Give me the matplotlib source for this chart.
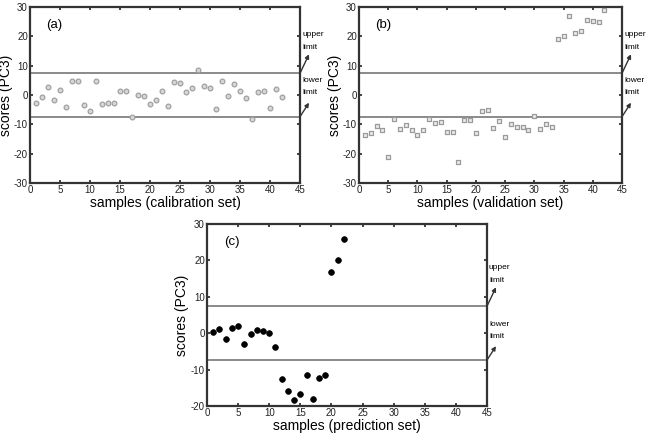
import numpy as np
import matplotlib
matplotlib.use('Agg')
import matplotlib.pyplot as plt

plt.rcParams['font.family'] = ['Liberation Sans', 'DejaVu Sans']
plt.rcParams['axes.unicode_minus'] = False

# PC3 scores
cal_scores = [-2.8, -0.8, 2.6, -1.6, 1.7, -4.0, 4.7, 4.9, -3.3, -5.5,
              4.7, -3.2, -2.8, -2.8, 1.5, 1.3, -7.6, -0.1, -0.3, -3.2,
              -1.7, 1.5, -3.9, 4.5, 4.1, 1.0, 2.5, 8.6, 3.2, 2.5,
              -4.7, 4.7, -0.3, 3.6, 1.4, -1.0, -8.2, 0.9, 1.3, -4.5,
              1.9, -0.8]
val_scores = [-13.7, -12.8, -10.6, -12.1, -21.1, -8.3, -11.7, -10.3, -12.1, -13.7,
              -12.1, -8.3, -9.5, -9.1, -12.7, -12.7, -22.8, -8.4, -8.4, -12.8,
              -5.6, -5.0, -11.2, -8.9, -14.3, -9.9, -10.8, -10.8, -12.0, -7.2,
              -11.6, -9.9, -10.9, 19.0, 20.0, 26.8, 21.1, 21.7, 25.7, 25.2,
              24.9, 28.8]
pred_scores = [0.4, 1.2, -1.7, 1.5, 1.9, -2.9, -0.3, 0.8, 0.5, 0.0,
               -3.9, -12.6, -16.0, -18.4, -16.8, -11.5, -18.1, -12.4, -11.4, 16.9,
               20.0, 25.8]
upper_limit = 7.4
lower_limit = -7.4

fig = plt.figure(figsize=(6.48, 4.33), dpi=100)
ax_a = fig.add_axes([0.0463, 0.5774, 0.4167, 0.4065])
ax_b = fig.add_axes([0.554, 0.5774, 0.4059, 0.4065])
ax_c = fig.add_axes([0.3194, 0.0624, 0.4321, 0.4203])


def style_axes(ax, ylim, xlabel, tag):
    ax.set_xlim(0, 45)
    ax.set_ylim(*ylim)
    ax.set_xticks(np.arange(0, 46, 5))
    ax.set_yticks(np.arange(ylim[0], ylim[1] + 1, 10))
    ax.tick_params(direction='in', length=2.5, width=1.2, top=True, right=True,
                   labelsize=7, pad=1.5, colors='#222222')
    for sp in ax.spines.values():
        sp.set_linewidth(1.6)
        sp.set_color('#333333')
    ax.set_xlabel(xlabel, fontsize=10, labelpad=1)
    ax.set_ylabel('scores (PC3)', fontsize=10, labelpad=1)
    ax.text(0.06, 0.9, tag, transform=ax.transAxes, fontsize=9.5, va='center')
    for lim in (upper_limit, lower_limit):
        ax.axhline(lim, color='#777777', lw=1.2, zorder=1)
    # limit annotations
    ax.annotate('upper', xy=(45, upper_limit), xytext=(2, 39), textcoords='offset pixels',
                fontsize=6, va='center', ha='left', annotation_clip=False)
    ax.annotate('limit', xy=(45, upper_limit), xytext=(2, 26), textcoords='offset pixels',
                fontsize=6, va='center', ha='left', annotation_clip=False)
    ax.annotate('lower', xy=(45, lower_limit), xytext=(2, 36), textcoords='offset pixels',
                fontsize=6, va='center', ha='left', annotation_clip=False)
    ax.annotate('limit', xy=(45, lower_limit), xytext=(2, 24), textcoords='offset pixels',
                fontsize=6, va='center', ha='left', annotation_clip=False)
    for lim, dy in ((upper_limit, 19), (lower_limit, 14)):
        start = ax.transData.transform((45, lim))
        end = start + np.array([9, dy])
        ax.annotate('', xy=end, xytext=start, xycoords='figure pixels',
                    textcoords='figure pixels', annotation_clip=False,
                    arrowprops=dict(arrowstyle='-|>', color='#333333', lw=1.0,
                                    mutation_scale=6, shrinkA=0, shrinkB=0))


samples_a = np.arange(1, len(cal_scores) + 1)
samples_b = np.arange(1, len(val_scores) + 1)
samples_c = np.arange(1, len(pred_scores) + 1)

ax_a.scatter(samples_a, cal_scores, s=12, marker='o', facecolor='#d6d6d6',
             edgecolor='#9a9a9a', linewidth=0.8, zorder=3)
ax_b.scatter(samples_b, val_scores, s=12, marker='s', facecolor='#ececec',
             edgecolor='#9a9a9a', linewidth=0.9, zorder=3)
ax_c.scatter(samples_c, pred_scores, s=17, marker='o', facecolor='black',
             edgecolor='black', linewidth=0.5, zorder=3)

style_axes(ax_a, (-30, 30), 'samples (calibration set)', '(a)')
style_axes(ax_b, (-30, 30), 'samples (validation set)', '(b)')
style_axes(ax_c, (-20, 30), 'samples (prediction set)', '(c)')

fig.savefig('out.png', dpi=100)
